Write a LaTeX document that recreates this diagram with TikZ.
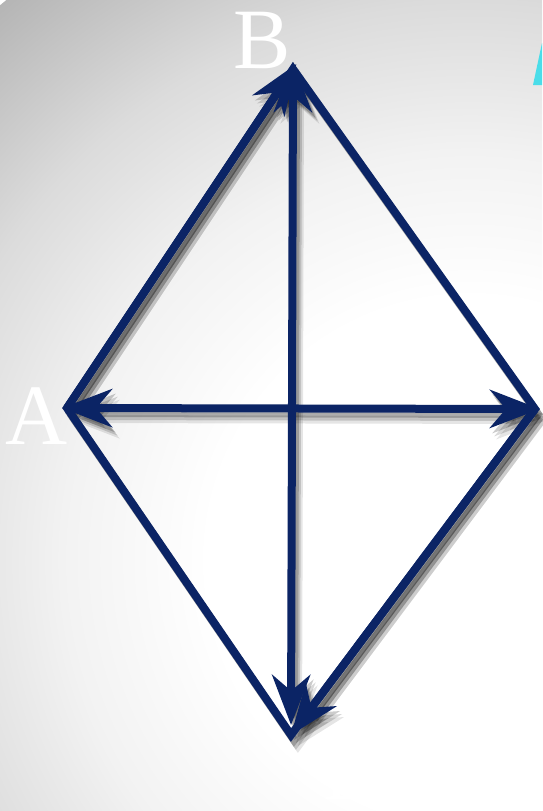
\documentclass[tikz,border=0pt]{standalone}
\usepackage{fontspec}
\setmainfont{Liberation Serif}
\usetikzlibrary{arrows.meta}

\definecolor{navy}{HTML}{0B2465}
\definecolor{aqua}{HTML}{4ADDE9}
\pgfdeclareradialshading{glow}{\pgfpoint{0bp}{0bp}}{color(0bp)=(white); color(9bp)=(white); color(14bp)=(black!5); color(19.2bp)=(black!14); color(25bp)=(black!29); color(50bp)=(black!60)}

\tikzstyle{edge} = [line width=8pt, line join=miter]
\tikzstyle{vec} = [line width=8pt, -{Stealth[length=50pt,width=38pt,inset=16pt]}]
\tikzstyle{twovec} = [line width=8pt, {Stealth[length=50pt,width=38pt,inset=16pt]}-{Stealth[length=50pt,width=38pt,inset=16pt]}]
\tikzstyle{letter} = [text=white, inner sep=0pt, font=\fontsize{86}{86}\selectfont]

% the kite with its vectors, in one colour
\newcommand\kite[1]{%
    \draw[edge, draw=#1] (A) -- (B) -- (C) -- (D) -- cycle;
    \draw[vec, draw=#1, fill=#1, shorten >=-6pt] (A) -- (B);
    \draw[vec, draw=#1, fill=#1] (C) -- (D);
    \draw[twovec, draw=#1, fill=#1, shorten <=-5pt, shorten >=-5pt] (A) -- (C);
    \draw[twovec, draw=#1, fill=#1, shorten <=-7pt, shorten >=10pt] (B) -- (D);
}

\begin{document}
\begin{tikzpicture}[x=1pt, y=-1pt]
% background
\begin{scope}
    \clip (0,0) rectangle (542,811);
    \shade[shading=glow] (470,560) circle (727);
\end{scope}
\useasboundingbox (0,0) rectangle (542,811);
\fill[aqua] (533,85) -- (542,43) -- (542,85) -- cycle;

\coordinate (A) at (67,408);
\coordinate (B) at (293,69);
\coordinate (C) at (535,409);
\coordinate (D) at (291,735);

% soft shadows
\foreach \dx/\dy/\op in {7/11/.10, 5/8/.15, 3/5/.2} {
    \begin{scope}[transform canvas={shift={(\dx,\dy)}}, opacity=\op]
        \kite{black}
    \end{scope}
}
\kite{navy}

\node[letter] (labA) at (37,416) {A};
\node[letter] (labB) at (262,40) {B};
\node[letter] (labD) at (355,771) {D};
\end{tikzpicture}
\end{document}
